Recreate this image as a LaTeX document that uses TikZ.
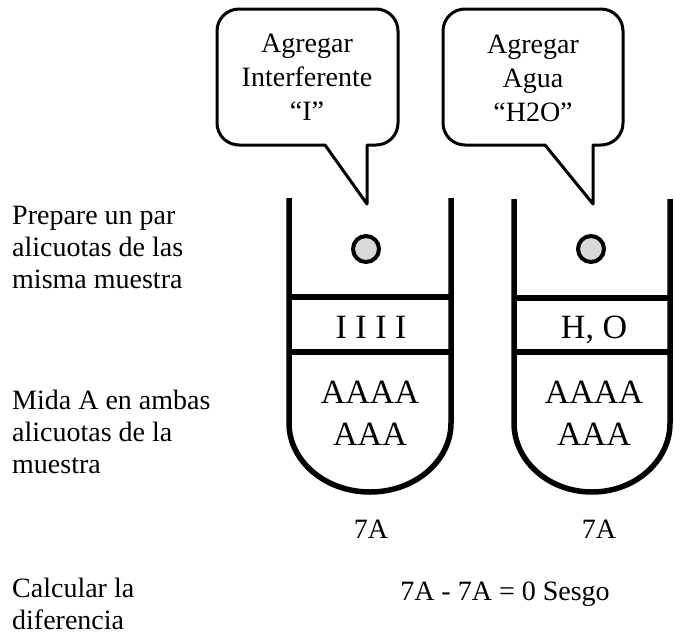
\documentclass[tikz,border=0pt]{standalone}
\usepackage{fontspec}
\setmainfont{Liberation Serif}
\usetikzlibrary{positioning}

\begin{document}
\begin{tikzpicture}[x=1pt, y=1pt,
        tube/.style={line width=5.5pt},
        bubble/.style={line width=3pt, line join=round},
        drop/.style={circle, draw, line width=4pt, fill=black!15, minimum size=26pt, inner sep=0pt},
        sidetext/.style={align=left, inner sep=0pt, font=\fontsize{28}{32}\selectfont},
        note/.style={align=center, inner sep=0pt, font=\fontsize{28}{34}\selectfont},
        liquid/.style={align=center, inner sep=0pt, font=\fontsize{34}{42}\selectfont}]
        \useasboundingbox (0,0) rectangle (674,-635);

        \draw[bubble] (367,-204) -- (325,-145) -- (239,-145) arc[start angle=270, end angle=180, radius=22]
                -- (217,-31) arc[start angle=180, end angle=90, radius=22]
                -- (376,-9) arc[start angle=90, end angle=0, radius=22]
                -- (398,-123) arc[start angle=0, end angle=-90, radius=22] -- (367,-145) -- cycle;
        \draw[bubble] (593,-204) -- (545,-145) -- (465,-145) arc[start angle=270, end angle=180, radius=22]
                -- (443,-31) arc[start angle=180, end angle=90, radius=22]
                -- (601,-9) arc[start angle=90, end angle=0, radius=22]
                -- (623,-123) arc[start angle=0, end angle=-90, radius=22] -- (593,-145) -- cycle;
        \node[note] (addI) at (307,-77.5) {Agregar\\Interferente\\“I”};
        \node[note] (addH) at (533,-78) {Agregar\\Agua\\“H2O”};

        \draw[tube] (289,-198) -- (289,-423) arc[start angle=180, end angle=360, x radius=81, y radius=69] -- (451,-198);
        \draw[tube] (289,-297) -- (451,-297);
        \draw[tube] (289,-352) -- (451,-352);
        \draw[tube] (514,-199) -- (514,-423) arc[start angle=180, end angle=360, x radius=78, y radius=69] -- (670,-199);
        \draw[tube] (514,-298) -- (670,-298);
        \draw[tube] (514,-352) -- (670,-352);

        \node[drop] (dropI) at (366,-249) {};
        \node[drop] (dropH) at (591,-249) {};

        \node[liquid, anchor=base] (bandI) at (371,-338) {I I I I};
        \node[liquid, anchor=base] (bandH) at (594,-338) {H, O};
        \node[liquid] (sampleI) at (370,-413) {AAAA\\AAA};
        \node[liquid] (sampleH) at (594,-413) {AAAA\\AAA};

        \node[sidetext, anchor=north west] (prep) at (12,-206) {Prepare un par\\alicuotas de las\\misma muestra};
        \node[sidetext, anchor=north west] (mida) [below = 101pt of prep.south west, anchor=north west] {Mida A en ambas\\alicuotas de la\\muestra};
        \node[sidetext, anchor=north west] (calc) at (12,-578) {Calcular la\\diferencia};

        \node[sidetext, anchor=base] (readI) at (371,-538) {7A};
        \node[sidetext, anchor=base] (readH) at (599,-538) {7A};
        \node[sidetext, anchor=base] (bias) at (505,-600) {7A - 7A = 0 Sesgo};
      \end{tikzpicture}
\end{document}
